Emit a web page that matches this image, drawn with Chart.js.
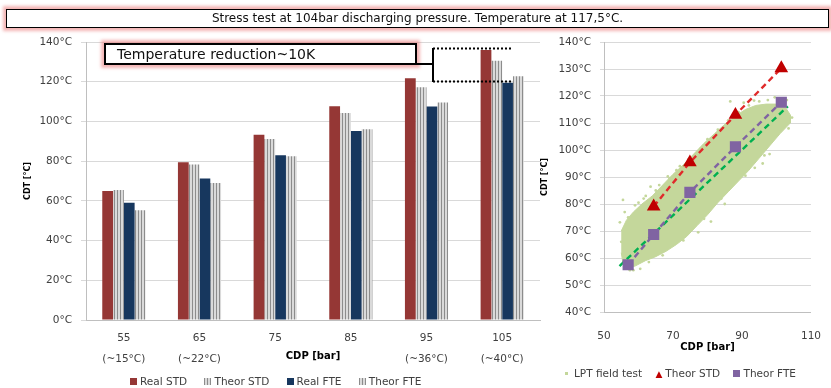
<!DOCTYPE html>
<html>
<head>
<meta charset="utf-8">
<script src="https://cdn.jsdelivr.net/npm/chart.js@4/dist/chart.umd.min.js"></script>
<style>
  body { margin: 0; background: #fff; font-family: "DejaVu Sans", sans-serif; }
  #wrap { position: relative; width: 831px; height: 388px; overflow: hidden; }
  canvas { position: absolute; top: 0; }
  .box { position: absolute; border: 1.5px solid #000; background: #fff; box-sizing: border-box;
         box-shadow: 0 0 3px 3px rgba(235, 120, 120, 0.55); z-index: 2; color: #111; }
  .legend { position: absolute; font-size: 10.5px; color: #404040; white-space: nowrap; z-index: 2; }
  .legend span.sw { display: inline-block; width: 7px; height: 7px; margin-right: 3px; vertical-align: 0px; }
  .legend span.item { margin-right: 14px; }
  .stripe { background: repeating-linear-gradient(90deg, #8c8c8c 0 1px, #dadada 1px 3px); }
  svg { position: absolute; left: 0; top: 0; z-index: 2; }
</style>
</head>
<body>
<div id="wrap">
  <canvas id="barChart" width="548" height="388" style="left:0"></canvas>
  <canvas id="scatChart" width="296" height="388" style="left:535px"></canvas>

  <div class="box" style="left:6px; top:9px; width:823px; height:19px; font-size:12px; text-align:center; line-height:16px;">Stress test at 104bar discharging pressure. Temperature at 117,5°C.</div>
  <div class="box" style="left:104px; top:43px; width:313px; height:22px; font-size:14px; line-height:18px; padding-left:11px; border-width:2px;">Temperature reduction~10K</div>

  <svg width="831" height="388">
    <path d="M417 64 H433 M433 48 V82" stroke="#000" stroke-width="2" fill="none"/>
    <path d="M433 48.5 H511 M433 81.5 H511" stroke="#000" stroke-width="2" stroke-dasharray="2 2" fill="none"/>
  </svg>

  <div class="legend" style="left:130px; top:375px;">
    <span class="item"><span class="sw" style="background:#953735"></span>Real STD</span>
    <span class="item"><span class="sw stripe"></span>Theor STD</span>
    <span class="item"><span class="sw" style="background:#17375e"></span>Real FTE</span>
    <span class="item"><span class="sw stripe"></span>Theor FTE</span>
  </div>
  <div class="legend" style="left:565px; top:367px;">
    <span class="item" style="margin-right:10px"><span class="sw" style="background:#c4d79b; width:3px; height:3px; vertical-align:2px; margin-right:6px"></span>LPT field test</span>
    <span class="item" style="margin-right:10px"><span style="color:#c00000; font-size:9px; margin-right:3px">▲</span>Theor STD</span>
    <span class="item"><span class="sw" style="background:#8064a2"></span>Theor FTE</span>
  </div>
</div>

<script>
// ---- bar chart data (CDT by discharge pressure) ----
var pressures  = ['55', '65', '75', '85', '95', '105'];
var ambient    = ['(~15°C)', '(~22°C)', '', '', '(~36°C)', '(~40°C)'];
var realSTD    = [65, 79.5, 93.3, 107.6, 121.8, 136];
var theorSTD   = [65.5, 78.3, 91.2, 104.3, 117.2, 130.5];
var realFTE    = [59, 71.2, 83, 95.2, 107.5, 119.5];
var theorFTE   = [55.3, 69, 82.5, 96, 109.5, 122.8];

// ---- scatter chart data ----
var stdX = [64.4, 74.9, 88.1, 101.4];
var stdY = [79.1, 95.4, 113, 130.3];
var fteX = [57, 64.4, 74.9, 88.1, 101.4];
var fteY = [57.5, 68.7, 84.3, 101.2, 117.7];
var trendX = [54.5, 103.3];
var trendY = [57, 116.2];
// outline of the dense field test cloud (upper edge, then lower edge back)
var cloudX = [55, 56.5, 58.5, 61, 64, 67, 70, 73, 76, 79, 82, 85, 88, 91, 94, 97, 100, 102.5, 104,
              104, 101, 98, 95, 92, 89, 86, 83, 80, 77, 74, 71, 68, 65, 62, 59, 57, 55.5, 55];
var cloudY = [70, 74, 77, 80, 83, 87, 91, 94.5, 98.5, 102.5, 106, 109.5, 112.5, 115, 116.5, 117, 117, 116, 113,
              110, 106, 101.5, 97, 92.5, 88.5, 84.5, 80.5, 76, 72, 68, 65, 62.5, 60.5, 59, 57, 56.5, 58, 62];
// scattered points around the cloud edge
var dotX = [55.5, 54.6, 62.1, 63.5, 68.5, 77.3, 93.7, 86.6, 93.5, 57, 60, 66, 72, 96, 99.5, 103, 90.5, 58.5, 81, 85, 98,
            56, 59, 61.5, 65, 69, 71, 74.5, 78, 80, 83, 86, 89, 92, 95, 97.5, 100.5, 102, 104.5, 103.5, 96.5, 91, 84, 79, 73, 67, 63, 60.5, 57.5, 55];
var dotY = [81.5, 73.2, 83, 86.4, 90.2, 69.5, 93.4, 118, 118.3, 75, 80.5, 87, 94, 95, 119.5, 118.5, 117.5, 55.5, 73.5, 80, 98.5,
            77, 79.5, 82, 85, 89.5, 92.5, 96.5, 100.5, 104, 107.5, 111, 114, 116.5, 118, 118.5, 118, 117.5, 112, 108, 98, 90.5, 82, 74.5, 66.5, 61, 58.5, 56, 55.5, 66];

function pts(xs, ys) {
    return xs.map(function(x, i) { return {x: x, y: ys[i]}; });
}

function stripes() {
    var c = document.createElement('canvas');
    c.width = 3; c.height = 4;
    var g = c.getContext('2d');
    g.fillStyle = '#dadada'; g.fillRect(0, 0, 3, 4);
    g.fillStyle = '#8c8c8c'; g.fillRect(0, 0, 1, 4);
    return g.createPattern(c, 'repeat');
}

Chart.defaults.font.family = '"DejaVu Sans", sans-serif';
Chart.defaults.color = '#595959';

var tickFont = {size: 10.5};
var axisTitleFont = {size: 10, weight: 'bold'};
var stripe = stripes();

new Chart(document.getElementById('barChart'), {
    type: 'bar',
    data: {
        labels: pressures.map(function(p, i) { return [p, ambient[i]]; }),
        datasets: [
            {label: 'Real STD', data: realSTD, backgroundColor: '#953735'},
            {label: 'Theor STD', data: theorSTD, backgroundColor: stripe},
            {label: 'Real FTE', data: realFTE, backgroundColor: '#17375e'},
            {label: 'Theor FTE', data: theorFTE, backgroundColor: stripe}
        ]
    },
    options: {
        responsive: false, animation: false, devicePixelRatio: 1,
        layout: {padding: {top: 42, right: 8, left: 0, bottom: 0}},
        datasets: {bar: {categoryPercentage: 0.57, barPercentage: 1}},
        plugins: {legend: {display: false}, tooltip: {enabled: false}},
        scales: {
            x: {
                grid: {display: false},
                border: {display: true, color: '#bfbfbf'},
                ticks: {font: {size: 10.5, lineHeight: 2}, padding: 0, color: '#404040', maxRotation: 0, autoSkip: false},
                title: {display: true, text: 'CDP [bar]', font: axisTitleFont, color: '#000', padding: {top: 26, bottom: 26}},
                afterFit: function(s) { s.height = 68; }
            },
            y: {
                min: 0, max: 140,
                ticks: {stepSize: 20, font: tickFont, padding: 9, color: '#404040',
                        callback: function(v) { return v + '°C'; }},
                grid: {color: '#d9d9d9', tickLength: 5},
                border: {color: '#bfbfbf'},
                title: {display: true, text: 'CDT [°C]', font: {size: 8, weight: 'bold'}, color: '#000', padding: {top: 23.5, bottom: 23.5}},
                afterFit: function(s) { s.width = 86; }
            }
        }
    }
});

new Chart(document.getElementById('scatChart'), {
    type: 'line',
    data: {
        datasets: [
            {label: 'cloud', data: pts(cloudX, cloudY), fill: 'shape', backgroundColor: '#c4d79b',
             borderColor: '#c4d79b', borderWidth: 1, pointRadius: 0, tension: 0, order: 6},
            {label: 'LPT field test', data: pts(dotX, dotY), showLine: false, pointRadius: 1.4,
             pointBackgroundColor: '#c4d79b', pointBorderWidth: 0, order: 4},
            {label: 'trend', data: pts(trendX, trendY), borderColor: '#00b050', borderWidth: 2.4,
             borderDash: [6, 4], pointRadius: 0, fill: false, order: 3},
            {label: 'Theor FTE', data: pts(fteX, fteY), borderColor: '#8064a2', borderWidth: 2.4, borderDash: [6, 4],
             pointStyle: 'rect', pointRadius: 6.2, pointBackgroundColor: '#8064a2', pointBorderColor: '#8064a2',
             fill: false, order: 2},
            {label: 'Theor STD', data: pts(stdX, stdY), borderColor: '#e02a2a', borderWidth: 2.4, borderDash: [6, 4],
             pointStyle: 'triangle', pointRadius: 5.5, pointBackgroundColor: '#c00000', pointBorderColor: '#c00000',
             fill: false, order: 1}
        ]
    },
    options: {
        responsive: false, animation: false, devicePixelRatio: 1,
        layout: {padding: {top: 42, right: 12, left: 0, bottom: 0}},
        plugins: {legend: {display: false}, tooltip: {enabled: false}},
        scales: {
            x: {
                type: 'linear', min: 50, max: 110,
                grid: {display: false},
                border: {display: true, color: '#bfbfbf'},
                ticks: {stepSize: 20, font: tickFont, padding: 10, color: '#404040'},
                title: {display: true, text: 'CDP [bar]', font: axisTitleFont, color: '#000', padding: {top: 35, bottom: 35}},
                afterFit: function(s) { s.height = 76; }
            },
            y: {
                min: 40, max: 140,
                ticks: {stepSize: 10, font: tickFont, padding: 9, color: '#404040',
                        callback: function(v) { return v + '°C'; }},
                grid: {color: '#d9d9d9', tickLength: 4},
                border: {color: '#bfbfbf'},
                title: {display: true, text: 'CDT [°C]', font: {size: 8, weight: 'bold'}, color: '#000', padding: {top: 5, bottom: 5}},
                afterFit: function(s) { s.width = 69; }
            }
        }
    }
});
</script>
</body>
</html>
